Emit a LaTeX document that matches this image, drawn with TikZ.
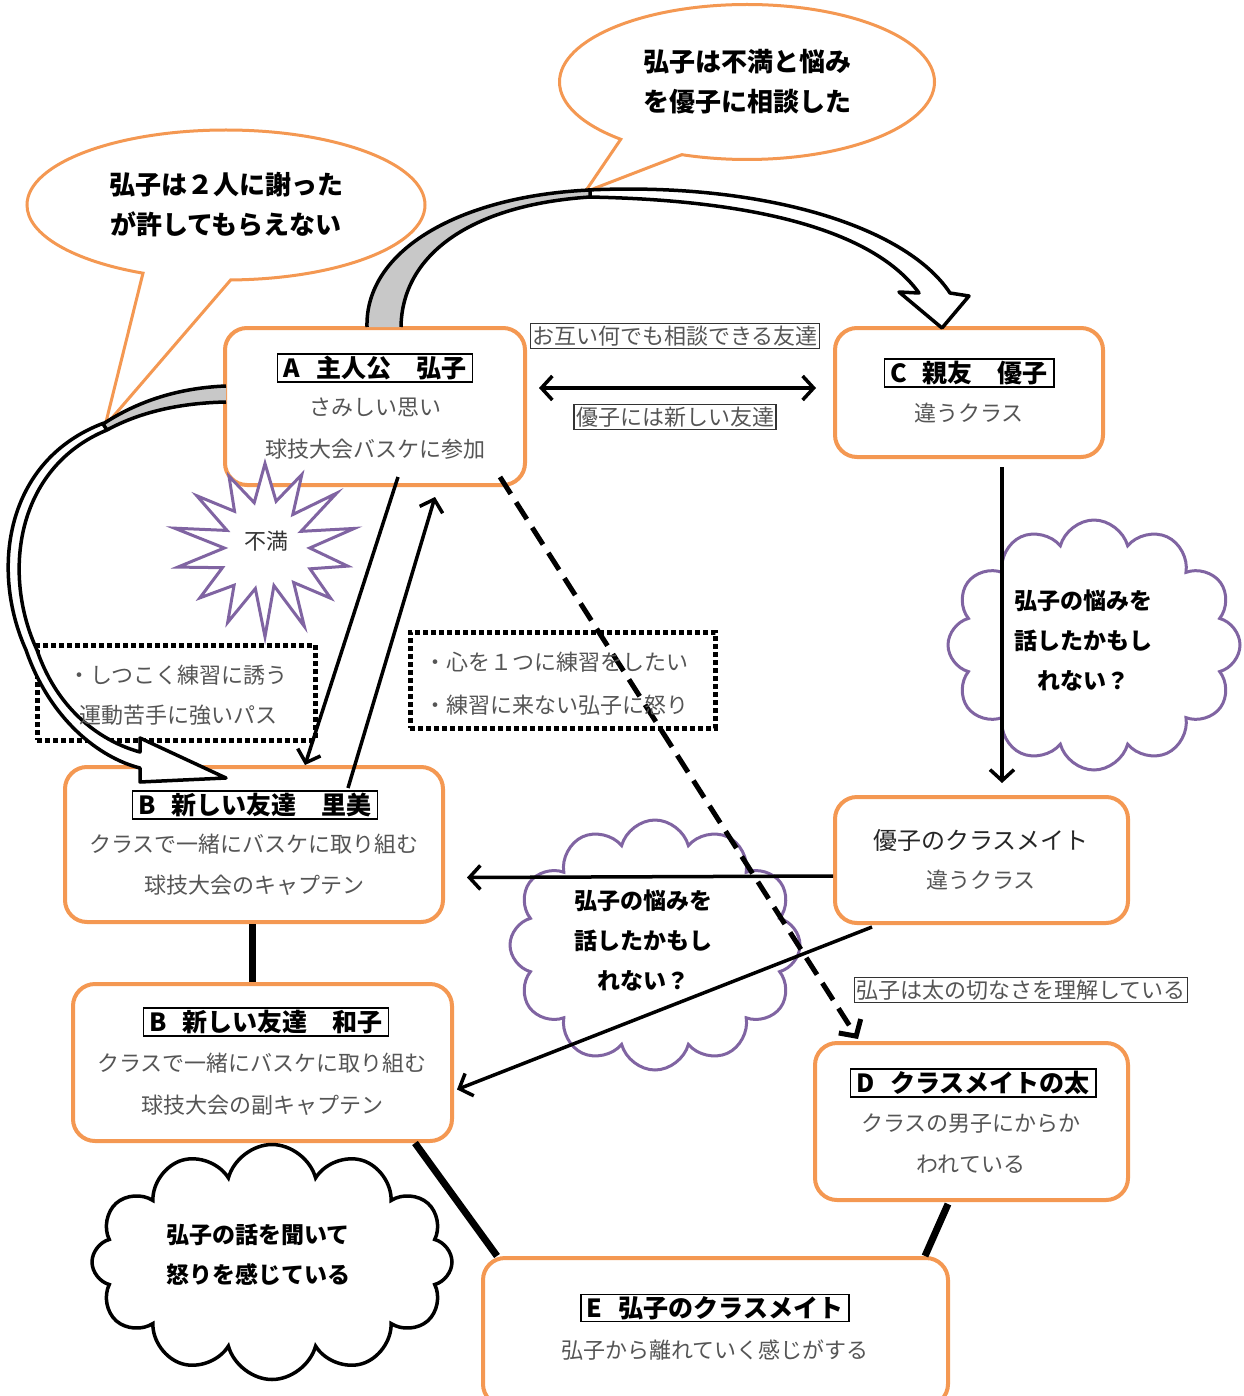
\documentclass[tikz,border=0pt]{standalone}
\usepackage{fontspec}
\setmainfont{Noto Sans CJK JP}
\usetikzlibrary{shapes.symbols,shapes.callouts,arrows.meta,calc}
\definecolor{boxorange}{RGB}{244,152,82}
\definecolor{cloudpurple}{RGB}{128,100,162}
\definecolor{bodygray}{RGB}{85,85,85}
\definecolor{ribgray}{RGB}{200,200,200}
\tikzset{
  mainbox/.style={draw=boxorange,line width=4pt,rounded corners=22pt,fill=white},
  titlebox/.style={draw=black,line width=1.3pt,inner xsep=6pt,inner ysep=2pt,fill=white,font=\fontsize{25}{28}\selectfont\bfseries,text=black},
  bodytxt/.style={inner sep=0pt,align=center,text=bodygray,font=\fontsize{22}{41}\selectfont},
  labelbox/.style={draw=black!80,line width=1.2pt,inner xsep=2pt,inner ysep=2pt,fill=white,text=bodygray,font=\fontsize{22}{26}\selectfont},
  cloudtxt/.style={inner sep=0pt,align=center,text=black,font=\fontsize{23}{40}\selectfont\bfseries},
  dotbox/.style={draw=black,line width=5pt,dash pattern=on 5pt off 3pt},
  purplecloud/.style={cloud,cloud puffs=12,cloud ignores aspect,draw=cloudpurple,line width=3pt},
  blackcloud/.style={cloud,cloud puffs=12,cloud ignores aspect,draw=black,line width=3.5pt,fill=white},
  bubble/.style={ellipse callout,draw=boxorange,line width=3pt,fill=white,align=center,font=\fontsize{26}{40}\selectfont\bfseries},
  ribbon/.style={draw=black,line width=3.5pt,line join=round},
  conn/.style={draw=black,line width=3.5pt,-{Straight Barb[length=11pt,width=24pt]}},
  dashconn/.style={draw=black,line width=5pt,dash pattern=on 20pt off 10pt,-{Straight Barb[length=12pt,width=26pt]}},
  thickline/.style={draw=black,line width=7pt},
}
\newcommand\tgap{\hspace{16pt}}
\begin{document}
\begin{tikzpicture}[x=1pt,y=-1pt]
\useasboundingbox (0,0) rectangle (1243,1396);
\fill[white] (0,0) rectangle (1243,1396);

% purple clouds (behind)
\node[purplecloud, minimum width=292pt, minimum height=250pt] (Rc) at (1094,645) {};
\node[purplecloud, minimum width=290pt, minimum height=250pt] (Mc) at (655,945) {};

% speech bubbles
\node[bubble, minimum width=398pt, minimum height=150pt, callout absolute pointer={(105,426)}, callout pointer arc=26] (Lbub) at (226,205) {弘子は２人に謝った\\が許してもらえない};
\node[bubble, minimum width=375pt, minimum height=155pt, callout absolute pointer={(585,192)}, callout pointer arc=22] (Tbub) at (747,82) {弘子は不満と悩み\\を優子に相談した};

% main boxes
\node[mainbox, minimum width=300pt, minimum height=157pt] (A) at (375,406.5) {};
\node[mainbox, minimum width=268pt, minimum height=129pt] (C) at (969,392.5) {};
\node[mainbox, minimum width=293pt, minimum height=126pt] (Y) at (981.5,860) {};
\node[mainbox, minimum width=378pt, minimum height=155pt] (B1) at (254,844.5) {};
\node[mainbox, minimum width=379pt, minimum height=157pt] (B2) at (262.5,1062.5) {};
\node[mainbox, minimum width=313pt, minimum height=157pt] (D) at (971.5,1121.5) {};
\node[mainbox, minimum width=465pt, minimum height=148pt] (E) at (715.5,1332) {};

% dotted boxes
\node[dotbox, minimum width=278pt, minimum height=95pt] (Dl) at (176,692.5) {};
\node[dotbox, minimum width=305pt, minimum height=96pt] (Dm) at (562.5,680) {};

% top ribbon arrow
\draw[ribbon, fill=white] (588,190) .. controls (760,182) and (905,225) .. (950,293) -- (969,296) -- (942,328) -- (899,292) -- (919,293) .. controls (875,232) and (760,200) .. (588,197);
\draw[ribbon, fill=ribgray] (367,327) .. controls (365,250) and (460,196) .. (590,190) -- (590,197) .. controls (470,205) and (402,255) .. (401,327);

% left ribbon arrow
\draw[ribbon, fill=white] (104,423) .. controls (5,460) and (-10,570) .. (26,650) .. controls (50,720) and (100,758) .. (140,768) -- (140,782) -- (226,778) -- (140,738) -- (140,752) .. controls (103,742) and (58,712) .. (37,650) .. controls (2,575) and (15,468) .. (107,430);
\draw[ribbon, fill=ribgray] (226,386) .. controls (175,388) and (135,403) .. (103,424) -- (107,430) .. controls (140,412) and (180,403) .. (226,402);

% connectors
\draw[draw=black,line width=3.5pt,{Straight Barb[length=11pt,width=24pt]}-{Straight Barb[length=11pt,width=24pt]}] ([xshift=12pt,yshift=18.5pt]A.east) -- ([xshift=-17pt,yshift=4.5pt]C.west);
\draw[conn] ([xshift=33pt,yshift=-8pt]C.south) -- ([xshift=20.5pt,yshift=12pt]Y.north);
\draw[conn] ([yshift=-16pt]Y.west) -- ([xshift=22pt,yshift=-33pt]B1.east);
\draw[conn] ([xshift=-109.5pt,yshift=-2pt]Y.south) -- ([xshift=3pt,yshift=-27pt]B2.east);
\draw[conn] ([xshift=23pt,yshift=10pt]A.south) -- ([xshift=51pt]B1.north);
\draw[conn] ([xshift=94pt,yshift=-23pt]B1.north) -- ([xshift=60pt,yshift=-10pt]A.south);
\draw[dashconn] ([xshift=125pt,yshift=10pt]A.south) -- ([xshift=-113.5pt,yshift=2pt]D.north);
\draw[thickline] ([xshift=-2pt]B1.south) -- ([xshift=-10.5pt]B2.north);
\draw[thickline] ([xshift=152.5pt]B2.south) -- ([xshift=-218.5pt]E.north);
\draw[thickline] ([xshift=-23.5pt,yshift=-2pt]D.south) -- ([xshift=209.5pt]E.north);

% starburst
\draw[cloudpurple, line width=3pt, fill=white, line join=miter] plot[samples at={0,...,27}, variable=\k] ({265+(66.5+21.5*cos(\k*180)+5*sin(\k*137))*cos(90+\k*360/28)}, {548-(66.5+21.5*cos(\k*180)+5*sin(\k*137))*0.96*sin(90+\k*360/28)}) -- cycle;

% black cloud
\node[blackcloud, minimum width=360pt, minimum height=235pt] (Bc) at (272,1262) {};

% texts in boxes
\node[titlebox] (At) at (375,368) {A\tgap 主人公　弘子};
\node[bodytxt, font=\fontsize{22}{42}\selectfont] (Ab) at (375,429) {さみしい思い\\球技大会バスケに参加};
\node[titlebox] (Ct) at (969,373) {C\tgap 親友　優子};
\node[bodytxt] (Cb) at (969,413) {違うクラス};
\node[inner sep=0pt,text=black!85,font=\fontsize{24}{28}\selectfont] (Yt) at (981,840) {優子のクラスメイト};
\node[bodytxt] (Yb) at (981,880) {違うクラス};
\node[titlebox] (B1t) at (255,805) {B\tgap 新しい友達　里美};
\node[bodytxt] (B1b) at (254,865) {クラスで一緒にバスケに取り組む\\球技大会のキャプテン};
\node[titlebox] (B2t) at (266,1022) {B\tgap 新しい友達　和子};
\node[bodytxt, font=\fontsize{22}{42}\selectfont] (B2b) at (262,1084) {クラスで一緒にバスケに取り組む\\球技大会の副キャプテン};
\node[titlebox] (Dt) at (973,1083) {D\tgap クラスメイトの太};
\node[bodytxt] (Db) at (971,1144) {クラスの男子にからか\\われている};
\node[titlebox] (Et) at (715,1308) {E\tgap 弘子のクラスメイト};
\node[bodytxt] (Eb) at (715,1350) {弘子から離れていく感じがする};

% labels
\node[labelbox] (L1) at (675,336) {お互い何でも相談できる友達};
\node[labelbox] (L2) at (675,417) {優子には新しい友達};
\node[labelbox] (L3) at (1021,990) {弘子は太の切なさを理解している};

% dotted box texts
\node[bodytxt, font=\fontsize{22}{40}\selectfont] (Dlt) at (178,695) {・しつこく練習に誘う\\運動苦手に強いパス};
\node[bodytxt, align=left, anchor=west, font=\fontsize{22}{43}\selectfont] (Dmt) at (424,683.5) {・心を１つに練習をしたい\\・練習に来ない弘子に怒り};

% starburst text
\node[inner sep=0pt, font=\fontsize{22}{26}\selectfont, text=black!80] (Fm) at (266,541) {不満};

% cloud texts
\node[cloudtxt] (Rct) at (1083,640) {弘子の悩みを\\話したかもし\\れない？};
\node[cloudtxt] (Mct) at (643,940) {弘子の悩みを\\話したかもし\\れない？};
\node[cloudtxt] (Bct) at (258,1255) {弘子の話を聞いて\\怒りを感じている};
\end{tikzpicture}
\end{document}
